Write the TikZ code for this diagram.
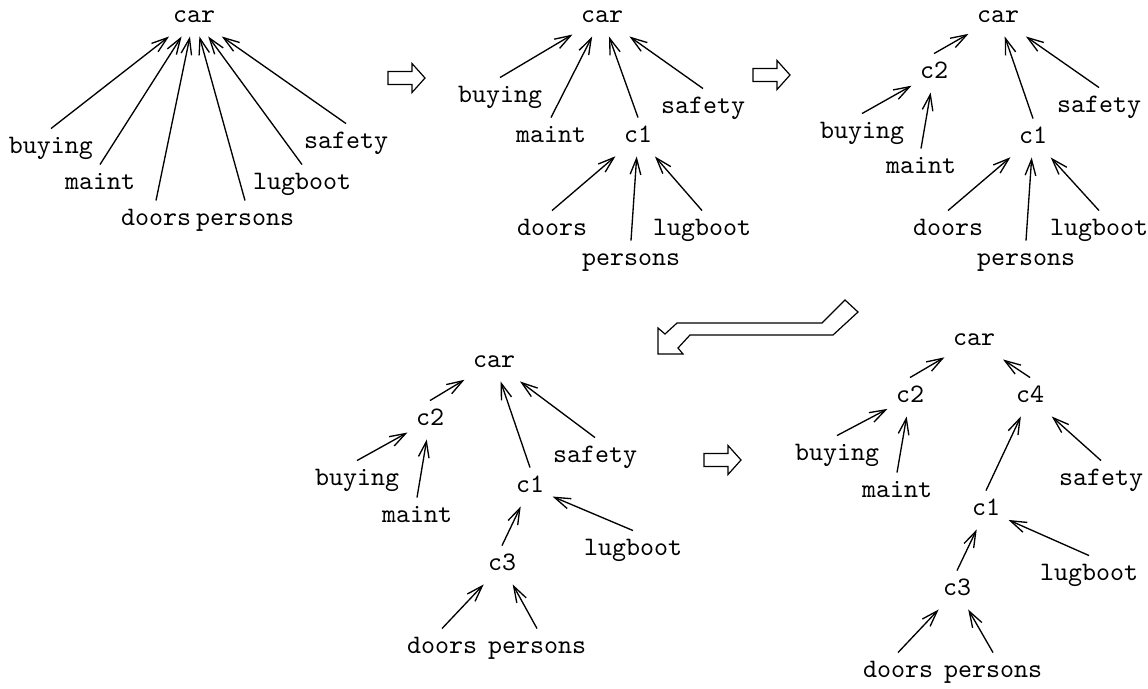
\documentclass[tikz,border=0pt]{standalone}
\usetikzlibrary{arrows.meta}

\begin{document}
\begin{tikzpicture}[x=0.375pt, y=-0.375pt,
        attr/.style={font=\ttfamily, inner sep=3pt, text height=6.2pt, text depth=2pt},
        edge/.style={-{Straight Barb[length=6pt,width=4pt]}, line width=0.5pt},
        bigarrow/.style={line width=0.45pt}]
    \useasboundingbox (0,0) rectangle (1148,688);

    % Tree 1: every attribute under car
    \node[attr] (t1car) at (194,17) {car};
    \node[attr] (t1buying) at (51,148) {buying};
    \node[attr] (t1maint) at (100,184) {maint};
    \node[attr] (t1doors) at (156,220) {doors};
    \node[attr] (t1persons) at (245,220) {persons};
    \node[attr] (t1lugboot) at (302,184) {lugboot};
    \node[attr] (t1safety) at (346,143) {safety};

    % Tree 2: c1 added
    \node[attr] (t2car) at (602,17) {car};
    \node[attr] (t2buying) at (500,97) {buying};
    \node[attr] (t2maint) at (551,137) {maint};
    \node[attr] (t2c1) at (638,137) {c1};
    \node[attr] (t2safety) at (703,108) {safety};
    \node[attr] (t2doors) at (552,230) {doors};
    \node[attr] (t2persons) at (631,260) {persons};
    \node[attr] (t2lugboot) at (702,230) {lugboot};

    % Tree 3: c2 added
    \node[attr] (t3car) at (998,17) {car};
    \node[attr] (t3c2) at (934,73) {c2};
    \node[attr] (t3buying) at (862,133) {buying};
    \node[attr] (t3maint) at (921,168) {maint};
    \node[attr] (t3c1) at (1033,138) {c1};
    \node[attr] (t3safety) at (1099,107) {safety};
    \node[attr] (t3doors) at (948,230) {doors};
    \node[attr] (t3persons) at (1026,260) {persons};
    \node[attr] (t3lugboot) at (1099,230) {lugboot};

    % Tree 4: c3 added
    \node[attr] (t4car) at (494,362) {car};
    \node[attr] (t4c2) at (430,420) {c2};
    \node[attr] (t4buying) at (357,480) {buying};
    \node[attr] (t4maint) at (417,517) {maint};
    \node[attr] (t4safety) at (595,457) {safety};
    \node[attr] (t4c1) at (530,487) {c1};
    \node[attr] (t4lugboot) at (633,550) {lugboot};
    \node[attr] (t4c3) at (502,565) {c3};
    \node[attr] (t4doors) at (442,648) {doors};
    \node[attr] (t4persons) at (537,648) {persons};

    % Tree 5: c4 added
    \node[attr] (t5car) at (974,340) {car};
    \node[attr] (t5c2) at (910,397) {c2};
    \node[attr] (t5c4) at (1030,397) {c4};
    \node[attr] (t5buying) at (837,455) {buying};
    \node[attr] (t5maint) at (897,492) {maint};
    \node[attr] (t5safety) at (1101,480) {safety};
    \node[attr] (t5c1) at (986,510) {c1};
    \node[attr] (t5lugboot) at (1089,575) {lugboot};
    \node[attr] (t5c3) at (957,590) {c3};
    \node[attr] (t5doors) at (898,672) {doors};
    \node[attr] (t5persons) at (993,672) {persons};

    % Edges, child to parent
    \foreach \a/\b in {t1buying/t1car, t1maint/t1car, t1doors/t1car, t1persons/t1car,
            t1lugboot/t1car, t1safety/t1car,
            t2buying/t2car, t2maint/t2car, t2c1/t2car, t2safety/t2car,
            t2doors/t2c1, t2persons/t2c1, t2lugboot/t2c1,
            t3c2/t3car, t3c1/t3car, t3safety/t3car, t3buying/t3c2, t3maint/t3c2,
            t3doors/t3c1, t3persons/t3c1, t3lugboot/t3c1,
            t4c2/t4car, t4c1/t4car, t4safety/t4car, t4buying/t4c2, t4maint/t4c2,
            t4c3/t4c1, t4lugboot/t4c1, t4doors/t4c3, t4persons/t4c3,
            t5c2/t5car, t5c4/t5car, t5buying/t5c2, t5maint/t5c2, t5c1/t5c4,
            t5safety/t5c4, t5c3/t5c1, t5lugboot/t5c1, t5doors/t5c3, t5persons/t5c3} {
        \draw[edge] (\a.north) -- (\b);
    }

    % Step arrows
    \foreach \x/\y in {388/78, 753/75, 704/460} {
        \draw[bigarrow, shift={(\x,\y)}] (0,-6.5) -- (24,-6.5) -- (24,-14.5) -- (37,0)
            -- (24,14.5) -- (24,6.5) -- (0,6.5) -- cycle;
    }

    % Bent arrow down to the second row
    \draw[bigarrow] (658,354) -- (658,328) -- (665,334) -- (677,323) -- (822,323)
        -- (845,300) -- (858,312) -- (833,335) -- (690,335) -- (678,348) -- (683,354) -- cycle;

\end{tikzpicture}
\end{document}
